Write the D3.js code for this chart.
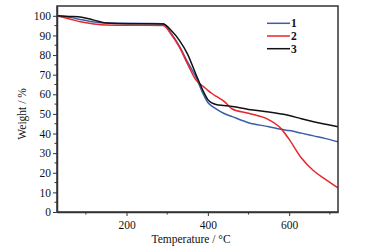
<!DOCTYPE html>
<html>
<head>
<meta charset="utf-8">
<script src="https://cdn.jsdelivr.net/npm/d3@7"></script>
<style>
  body { margin: 0; background: #fff; }
  svg text { font-family: "Liberation Serif", "DejaVu Serif", serif; }
</style>
</head>
<body>
<div id="chart"></div>
<script>
const temps = [29, 60, 90, 120, 150, 200, 250, 290, 310, 330, 350, 370, 390, 400, 410, 420, 440, 460, 500, 550, 580, 600, 630, 660, 690, 720];
const series1 = [100, 99.2, 98, 96.8, 96.3, 96.2, 96.1, 96, 91, 84.5, 76.5, 69, 59.5, 55.8, 54, 52.6, 50.2, 48.6, 45.5, 43.5, 42.2, 41.5, 40.2, 38.8, 37.4, 35.8];
const series2 = [100, 98.4, 96.8, 95.8, 95.3, 95.2, 95.2, 95, 90.5, 84, 75.5, 67.5, 63.8, 62, 60.4, 59, 56.4, 52.5, 50.3, 47, 42.5, 37, 27.5, 21, 16.5, 12.3];
const series3 = [100, 99.7, 99.3, 97.8, 96.3, 96, 96, 95.8, 92.5, 87.5, 80.5, 70.5, 61, 57.3, 55.6, 54.8, 54.3, 53.8, 52.3, 51, 50, 49.2, 47.5, 46, 44.7, 43.4];
const seriesNames = ["1", "2", "3"];
const seriesColors = ["#3b5ea8", "#e8262d", "#111111"];
const xTicks = [200, 400, 600];
const xMinor = [100, 300, 500, 700];
const yTicks = [0, 10, 20, 30, 40, 50, 60, 70, 80, 90, 100];
const yMinor = [5, 15, 25, 35, 45, 55, 65, 75, 85, 95];

const width = 373, height = 250;
const margin = {left: 57, right: 35, top: 6, bottom: 38};

const svg = d3.select("#chart").append("svg")
    .attr("width", width)
    .attr("height", height);

const x = d3.scaleLinear().domain([29, 720]).range([margin.left, width - margin.right]);
const y = d3.scaleLinear().domain([0, 105]).range([height - margin.bottom, margin.top]);

const allSeries = [series1, series2, series3];

// lines
const line = d3.line()
    .x((d, i) => x(temps[i]))
    .y(d => y(d))
    .curve(d3.curveMonotoneX);

allSeries.forEach((s, k) => {
    svg.append("path")
        .datum(s)
        .attr("fill", "none")
        .attr("stroke", seriesColors[k])
        .attr("stroke-width", 1.5)
        .attr("d", line);
});

// frame
svg.append("rect")
    .attr("x", x.range()[0])
    .attr("y", y.range()[1])
    .attr("width", x.range()[1] - x.range()[0])
    .attr("height", y.range()[0] - y.range()[1])
    .attr("fill", "none")
    .attr("stroke", "#333")
    .attr("stroke-width", 1.5);

// x axis
const gx = svg.append("g")
    .attr("transform", `translate(0,${y.range()[0]})`)
    .call(d3.axisBottom(x).tickValues(xTicks).tickSize(4).tickSizeOuter(0));
gx.append("g").selectAll("line").data(xMinor).enter().append("line")
    .attr("x1", d => x(d)).attr("x2", d => x(d))
    .attr("y1", 0).attr("y2", 2.5)
    .attr("stroke", "#333");

// y axis
const gy = svg.append("g")
    .attr("transform", `translate(${x.range()[0]},0)`)
    .call(d3.axisLeft(y).tickValues(yTicks).tickSize(4).tickSizeOuter(0));
gy.append("g").selectAll("line").data(yMinor).enter().append("line")
    .attr("y1", d => y(d)).attr("y2", d => y(d))
    .attr("x1", 0).attr("x2", -2.5)
    .attr("stroke", "#333");

[gx, gy].forEach(g => {
    g.select(".domain").attr("stroke", "#333").attr("stroke-width", 1.5);
    g.selectAll(".tick line").attr("stroke", "#333");
    g.selectAll(".tick text")
        .attr("fill", "#111")
        .style("font-size", "11.5px")
        .style("font-family", "'Liberation Serif', serif");
});
gx.selectAll(".tick text").attr("dy", "0.9em");
gy.selectAll(".tick text").attr("x", -6);

// axis titles
svg.append("text")
    .attr("x", 191)
    .attr("y", 243)
    .attr("text-anchor", "middle")
    .style("font-size", "11.5px")
    .attr("fill", "#111")
    .text("Temperature / °C");

svg.append("text")
    .attr("transform", "rotate(-90)")
    .attr("x", -(y(50)))
    .attr("y", 26)
    .attr("text-anchor", "middle")
    .style("font-size", "11.5px")
    .attr("fill", "#111")
    .text("Weight / %");

// legend
const legend = svg.append("g");
seriesNames.forEach((n, k) => {
    const ly = 23.3 + k * 12.7;
    legend.append("line")
        .attr("x1", 267).attr("x2", 290)
        .attr("y1", ly).attr("y2", ly)
        .attr("stroke", seriesColors[k])
        .attr("stroke-width", 1.5);
    legend.append("text")
        .attr("x", 291)
        .attr("y", ly + 4)
        .style("font-size", "11.5px")
        .style("font-weight", "bold")
        .attr("fill", "#111")
        .text(n);
});
</script>
</body>
</html>
